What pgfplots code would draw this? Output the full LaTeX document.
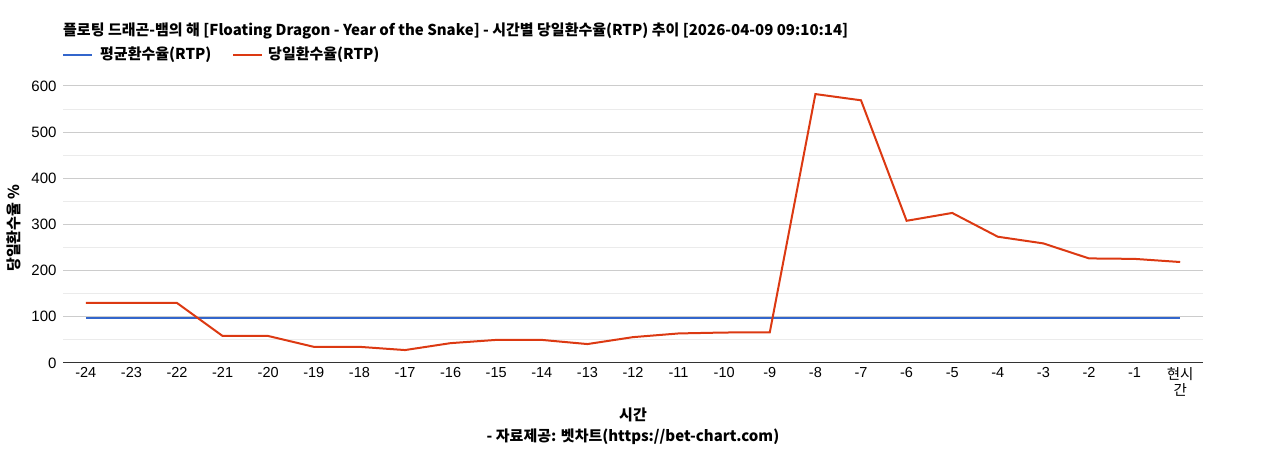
\documentclass[border=0pt]{standalone}
\usepackage{fontspec}
\setmainfont{Liberation Sans}
\newfontfamily\kr{Noto Sans CJK KR}
\usepackage{pgfplots}
\pgfplotsset{compat=1.18}
\definecolor{avgblue}{HTML}{3366CC}
\definecolor{dayred}{HTML}{DC3912}
\definecolor{majgrid}{HTML}{CCCCCC}
\definecolor{mingrid}{HTML}{EBEBEB}
\definecolor{axisdark}{HTML}{333333}

\begin{document}
\begin{tikzpicture}[x=1bp,y=1bp]
\path[use as bounding box] (0,0) rectangle (1268,450);

% title and legend
\node[anchor=base west,inner sep=0pt,font=\kr\bfseries\fontsize{15bp}{17bp}\selectfont] at (63,414)
  {플로팅 드래곤-뱀의 해 [Floating Dragon - Year of the Snake] - 시간별 당일환수율(RTP) 추이 [2026-04-09 09:10:14]};
\draw[avgblue,line width=2bp] (63,395) -- (92,395);
\node[anchor=base west,inner sep=0pt,font=\kr\bfseries\fontsize{15bp}{17bp}\selectfont] at (100,390) {평균환수율(RTP)};
\draw[dayred,line width=2bp] (233,395) -- (262,395);
\node[anchor=base west,inner sep=0pt,font=\kr\bfseries\fontsize{15bp}{17bp}\selectfont] at (268,390) {당일환수율(RTP)};

\begin{axis}[
  at={(63bp,87bp)}, anchor=south west,
  width=1140bp, height=277bp, scale only axis,
  xmin=-0.5, xmax=24.5, ymin=0, ymax=600,
  axis x line*=bottom, axis y line*=left,
  x axis line style={axisdark,line width=1bp,-},
  y axis line style={draw=none},
  xtick={0,...,24},
  xticklabels={-24,-23,-22,-21,-20,-19,-18,-17,-16,-15,-14,-13,-12,-11,-10,-9,-8,-7,-6,-5,-4,-3,-2,-1,{\kr 현시\\\kr 간}},
  x tick label style={align=center,font=\fontsize{14.5bp}{16bp}\selectfont,yshift=-1bp},
  ytick={0,100,...,600}, minor ytick={50,150,...,550},
  y tick label style={font=\fontsize{15bp}{17bp}\selectfont,xshift=-3bp},
  /pgf/number format/assume math mode=true,
  ymajorgrids, yminorgrids,
  major grid style={majgrid,line width=1bp},
  minor grid style={mingrid,line width=1bp},
  major tick length=0pt, minor tick length=0pt,
  clip=false,
]
\addplot[avgblue,line width=2bp] coordinates {
(0,97.5)(1,97.5)(2,97.5)(3,97.5)(4,97.5)(5,97.5)(6,97.5)(7,97.5)(8,97.5)(9,97.5)
(10,97.5)(11,97.5)(12,97.5)(13,97.5)(14,97.5)(15,97.5)(16,97.5)(17,97.5)(18,97.5)(19,97.5)
(20,97.5)(21,97.5)(22,97.5)(23,97.5)(24,97.5)};
\addplot[dayred,line width=2bp] coordinates {
(0,130)(1,130)(2,130)(3,58.5)(4,58.5)(5,35)(6,35)(7,28)(8,43)(9,50)
(10,50)(11,41)(12,56)(13,64)(14,66)(15,66.5)(16,582.5)(17,569)(18,308)(19,325)
(20,273.5)(21,259)(22,226.5)(23,225.5)(24,218.7)};
\end{axis}

\node[rotate=90,inner sep=0pt,font=\kr\bfseries\fontsize{15bp}{17bp}\selectfont] at (14,222) {당일환수율 \%};
\node[inner sep=0pt,font=\kr\bfseries\fontsize{15bp}{17bp}\selectfont] at (633,35) {시간};
\node[inner sep=0pt,font=\kr\bfseries\fontsize{15bp}{17bp}\selectfont] at (633,13) {- 자료제공: 벳차트(https://bet-chart.com)};
\end{tikzpicture}
\end{document}
